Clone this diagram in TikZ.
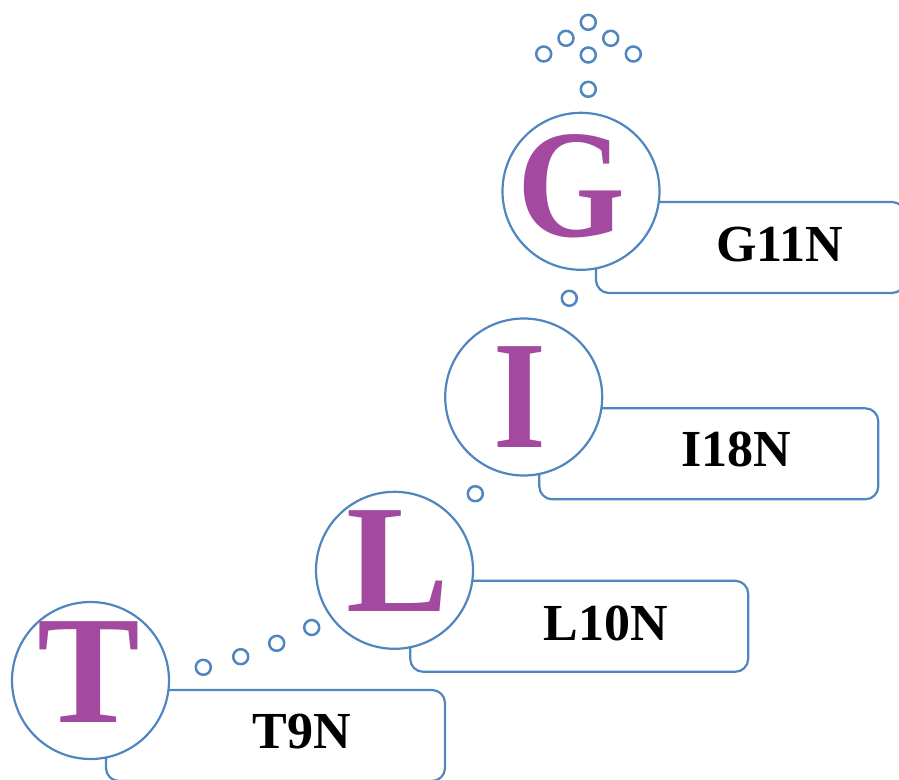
\documentclass[tikz,border=0pt]{standalone}
\usepackage{fontspec}
\setmainfont{Liberation Serif}
\definecolor{lineblue}{RGB}{79,134,192}
\definecolor{lettermag}{RGB}{163,73,160}
\tikzset{
  bigcircle/.style={circle, draw=lineblue, line width=2.2pt, fill=white, minimum size=157pt, inner sep=0pt},
  labelbox/.style={draw=lineblue, line width=2.2pt, rounded corners=13pt, fill=white, inner sep=0pt},
  dotring/.style={circle, draw=lineblue, line width=2.5pt, minimum size=15pt, inner sep=0pt},
  bigletter/.style={text=lettermag, font=\fontsize{154}{154}\selectfont\bfseries, inner sep=0pt, anchor=base},
  boxtext/.style={font=\fontsize{52}{52}\selectfont\bfseries, inner sep=0pt},
}
\begin{document}
\begin{tikzpicture}[x=1pt,y=-1pt]
\useasboundingbox (0,0) rectangle (899,779);
\clip (0,0) rectangle (899,779);

% label boxes
\node[labelbox, minimum width=339pt, minimum height=91pt] (boxT) at (275.5,735.5) {};
\node[labelbox, minimum width=338pt, minimum height=91pt] (boxL) at (579.2,626.3) {};
\node[labelbox, minimum width=339pt, minimum height=91pt] (boxI) at (708.8,453.8) {};
\node[labelbox, minimum width=309pt, minimum height=91pt] (boxG) at (750.5,247.5) {};

% circles
\node[bigcircle] (cT) at (90.5,680.5) {};
\node[bigcircle] (cL) at (394.5,570.3) {};
\node[bigcircle] (cI) at (523.7,397) {};
\node[bigcircle] (cG) at (581,191.3) {};

% big letters
\node[bigletter, xscale=1.0] (lT) at (89,722) {T};
\node[bigletter] (lL) at (397.5,611.7) {L};
\node[bigletter, xscale=0.88] (lI) at (519.7,447.3) {I};
\node[bigletter, xscale=0.9] (lG) at (571.7,236.5) {G};

% box texts
\node[boxtext] (tT) at (302,732) {T9N};
\node[boxtext] (tL) at (606,623) {L10N};
\node[boxtext] (tI) at (736,449) {I18N};
\node[boxtext] (tG) at (779.7,244.7) {G11N};

% small rings
\node[dotring] (d1) at (203.3,667.3) {};
\node[dotring] (d2) at (240.7,656.7) {};
\node[dotring] (d3) at (276.7,643.3) {};
\node[dotring] (d4) at (311.7,627.5) {};
\node[dotring] (d5) at (475.3,493.7) {};
\node[dotring] (d6) at (569.3,298.3) {};
\node[dotring] (d7) at (588.3,89.3) {};
\node[dotring] (d8) at (543.7,54) {};
\node[dotring] (d9) at (588.3,55) {};
\node[dotring] (d10) at (633.3,54) {};
\node[dotring] (d11) at (566,38.3) {};
\node[dotring] (d12) at (610.7,38.3) {};
\node[dotring] (d13) at (588.3,22.3) {};
\end{tikzpicture}
\end{document}
